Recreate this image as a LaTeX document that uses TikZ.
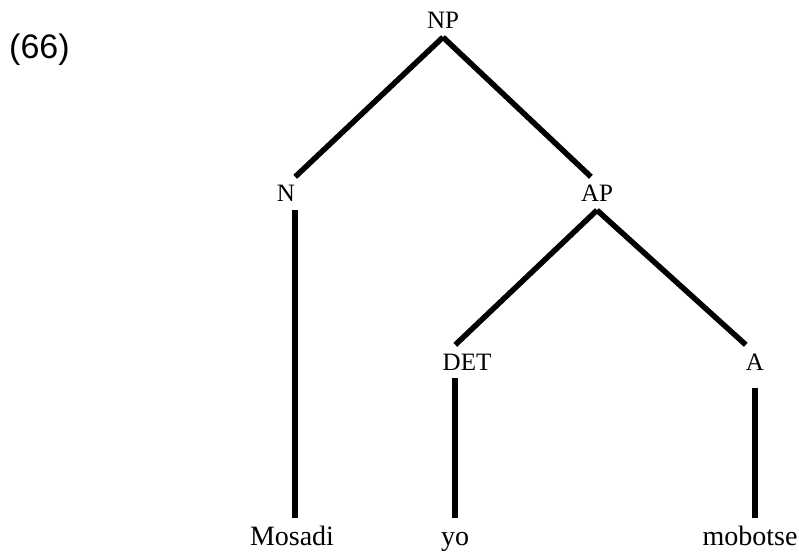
\documentclass[tikz,border=0pt]{standalone}
\usepackage{fontspec}
\setmainfont{Liberation Serif}
\newfontfamily\numfont{Liberation Sans}
\usetikzlibrary{positioning,calc}

\tikzset{
  cat/.style={font=\fontsize{25}{29}\selectfont, anchor=base,
    inner xsep=0pt, inner ysep=8pt, text height=17pt, text depth=0pt},
  word/.style={cat, font=\fontsize{28}{32}\selectfont, text height=19pt},
  branch/.style={line width=5.5pt}
}

\begin{document}
\begin{tikzpicture}[x=1pt,y=-1pt]
\useasboundingbox (0,0) rectangle (799,553);
\node[anchor=base west, inner sep=0pt, font=\numfont\fontsize{34}{38}\selectfont] (ex) at (9,59) {(66)};
% categories
\node[cat] (NP) at (443,29) {NP};
\node[cat] (N) at (286,202) {N};
\node[cat] (AP) at (597,202) {AP};
\node[cat] (DET) at (467,370) {DET};
\node[cat] (A) at (755,370) {A};
% words
\node[word] (mosadi) at (292,545) {Mosadi};
\node[word] (yo) at (455,545) {yo};
\node[word] (mobotse) at (750,545) {mobotse};
% branches
\draw[branch] (NP.south) -- (N.north east);
\draw[branch] (NP.south) -- (AP.110);
\draw[branch] (AP.south) -- (DET.125);
\draw[branch] (AP.south) -- (A.north west);
\draw[branch] (N.south east) -- (N.south east |- mosadi.north);
\draw[branch] (yo.north |- DET.south) -- (yo.north);
\draw[branch, shorten <=10pt] (A.south) -- (A.south |- mobotse.north);
\end{tikzpicture}
\end{document}
